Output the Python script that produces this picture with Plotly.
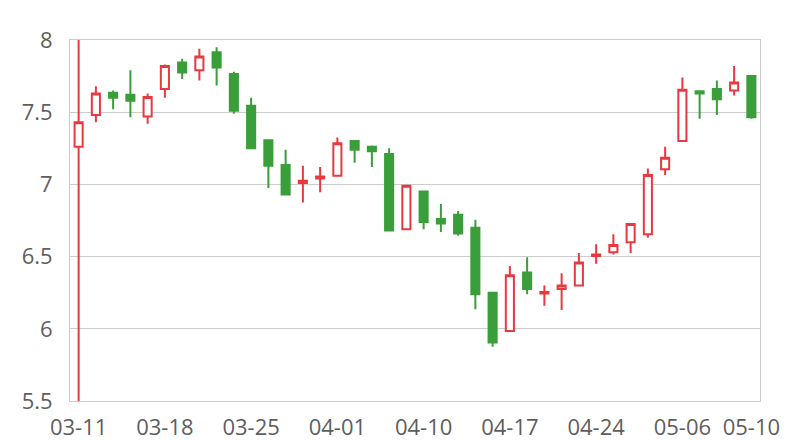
import plotly.graph_objects as go


##############################################################
# Data
##############################################################

dates = [
    "03-11", "03-12", "03-13", "03-14", "03-15",
    "03-18", "03-19", "03-20", "03-21", "03-22",
    "03-25", "03-26", "03-27", "03-28", "03-29",
    "04-01", "04-02", "04-03", "04-08", "04-09",
    "04-10", "04-11", "04-12", "04-15", "04-16",
    "04-17", "04-18", "04-19", "04-22", "04-23",
    "04-24", "04-25", "04-26", "04-29", "04-30",
    "05-06", "05-07", "05-08", "05-09", "05-10"
]

open_ = [
    7.26, 7.48, 7.635, 7.62, 7.47, 7.66, 7.845, 7.79, 7.915, 7.765,
    7.545, 7.305, 7.135, 7.01, 7.04, 7.06, 7.30, 7.26, 7.21, 6.69,
    6.95, 6.76, 6.79, 6.70, 6.25, 5.985, 6.39, 6.245, 6.275, 6.30,
    6.505, 6.53, 6.60, 6.655, 7.105, 7.30, 7.645, 7.66, 7.65, 7.75
]

close = [
    7.43, 7.63, 7.60, 7.58, 7.605, 7.82, 7.775, 7.885, 7.81, 7.51,
    7.25, 7.13, 6.93, 7.025, 7.055, 7.285, 7.24, 7.23, 6.68, 6.99,
    6.74, 6.73, 6.66, 6.24, 5.905, 6.37, 6.275, 6.255, 6.30, 6.46,
    6.515, 6.58, 6.725, 7.065, 7.185, 7.655, 7.63, 7.59, 7.705, 7.465
]

high = [
    8.0, 7.68, 7.65, 7.79, 7.63, 7.83, 7.87, 7.94, 7.95, 7.78,
    7.60, 7.31, 7.24, 7.13, 7.12, 7.325, 7.30, 7.27, 7.25, 6.99,
    6.95, 6.865, 6.815, 6.755, 6.25, 6.435, 6.495, 6.30, 6.385, 6.525,
    6.585, 6.655, 6.73, 7.11, 7.26, 7.74, 7.65, 7.72, 7.82, 7.75
]

low = [
    5.5, 7.43, 7.52, 7.465, 7.42, 7.60, 7.73, 7.72, 7.685, 7.49,
    7.25, 6.975, 6.93, 6.875, 6.945, 7.06, 7.15, 7.12, 6.68, 6.69,
    6.69, 6.67, 6.645, 6.135, 5.875, 5.985, 6.24, 6.16, 6.13, 6.30,
    6.45, 6.515, 6.525, 6.63, 7.065, 7.30, 7.455, 7.48, 7.615, 7.455
]

tick_labels = ["03-11", "03-18", "03-25", "04-01", "04-10",
               "04-17", "04-24", "05-06", "05-10"]

y_ticks = [5.5, 6, 6.5, 7, 7.5, 8]
y_tick_text = ["5.5", "6", "6.5", "7", "7.5", "8"]


##############################################################
# Candlestick
##############################################################

up_color = "#e8393f"
down_color = "#3a9e3a"

fig = go.Figure(
    go.Candlestick(
        x=dates,
        open=open_,
        high=high,
        low=low,
        close=close,
        increasing=dict(
            line=dict(color=up_color, width=2),
            fillcolor="white"
        ),
        decreasing=dict(
            line=dict(color=down_color, width=2),
            fillcolor=down_color
        ),
        whiskerwidth=0,
        showlegend=False
    )
)

# page body has an 8px margin, so the figure is 8px smaller each way
fig.update_layout(
    width=792,
    height=432,
    margin=dict(l=62, r=40, t=32, b=39),
    paper_bgcolor="white",
    plot_bgcolor="white",
    boxgap=0.33,
    font=dict(family="Open Sans", size=22, color="#5e5e5e"),
    xaxis=dict(
        type="category",
        rangeslider=dict(visible=False),
        range=[-0.5, len(dates) - 0.5],
        tickmode="array",
        tickvals=tick_labels,
        ticktext=tick_labels,
        showgrid=False,
        showline=True,
        mirror=True,
        linecolor="#cccccc",
        linewidth=1,
        ticks="",
        ticklabelstandoff=7,
        automargin=False
    ),
    yaxis=dict(
        range=[5.5, 8],
        tickvals=y_ticks,
        ticktext=y_tick_text,
        showgrid=True,
        gridcolor="#cccccc",
        gridwidth=1,
        showline=True,
        mirror=True,
        linecolor="#cccccc",
        linewidth=1,
        zeroline=False,
        ticks="",
        ticklabelstandoff=12,
        automargin=False
    )
)

fig.write_html("out.html")
